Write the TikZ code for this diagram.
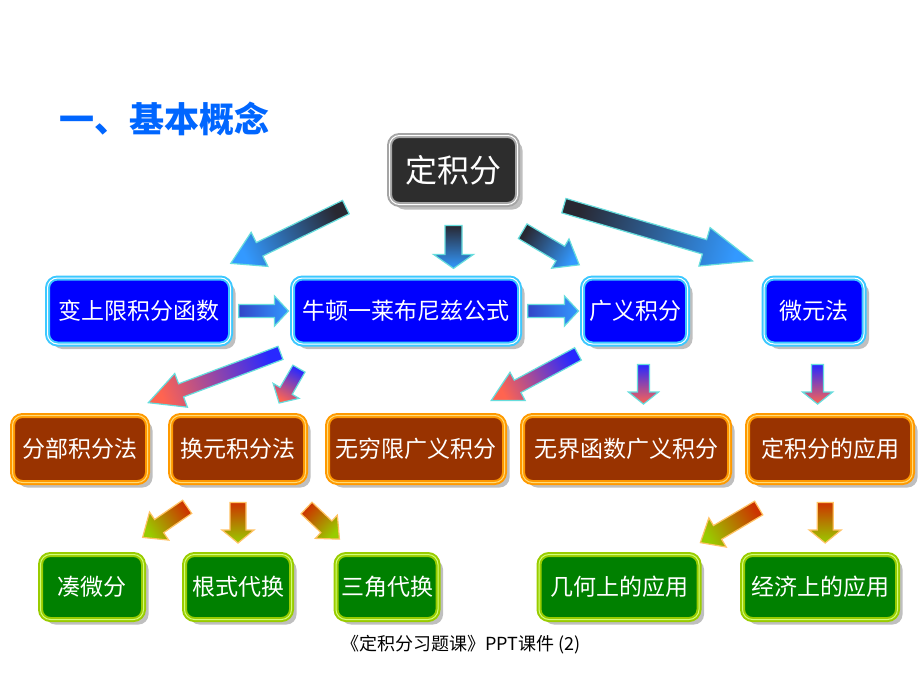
\documentclass[tikz,border=0pt]{standalone}
\usepackage{fontspec}
\newfontfamily\cjk{Noto Sans CJK SC}
\usetikzlibrary{calc}
\usetikzlibrary{shadows}

\definecolor{titleblue}{RGB}{0,102,255}
\definecolor{boxdark}{RGB}{45,45,45}
\definecolor{framegray}{RGB}{165,165,165}
\definecolor{boxblue}{RGB}{0,0,255}
\definecolor{frameblue}{RGB}{60,200,255}
\definecolor{boxbrown}{RGB}{153,51,0}
\definecolor{frameorange}{RGB}{255,153,0}
\definecolor{paleorange}{RGB}{255,220,120}
\definecolor{boxgreen}{RGB}{0,128,0}
\definecolor{framegreen}{RGB}{153,204,0}
\definecolor{palegreen}{RGB}{210,255,120}
\definecolor{arrowdark}{RGB}{40,40,50}
\definecolor{arrowsky}{RGB}{51,153,255}
\definecolor{arrowdeep}{RGB}{50,70,200}
\definecolor{arrowviolet}{RGB}{40,40,255}
\definecolor{arrowred}{RGB}{255,100,80}
\definecolor{arrowrim}{RGB}{102,221,221}
\definecolor{arrowrust}{RGB}{204,51,0}
\definecolor{arrowlime}{RGB}{153,204,0}
\definecolor{arrowglow}{RGB}{255,195,100}

\tikzset{
        box/.style={rounded corners=10pt, inner sep=0pt, text=white,
                font=\cjk\fontsize{23}{27}\selectfont,
                line width=2pt, double distance=1pt,
                drop shadow={shadow xshift=5pt, shadow yshift=-5pt, fill=gray!55, opacity=0.9}},
        darkbox/.style={box, fill=boxdark, draw=framegray, double=white},
        bluebox/.style={box, fill=boxblue, draw=frameblue, double=white, minimum height=66pt},
        brownbox/.style={box, fill=boxbrown, draw=frameorange, double=paleorange, minimum height=67pt},
        greenbox/.style={box, fill=boxgreen, draw=framegreen, double=palegreen, minimum height=65pt},
        darkarrow/.style={top color=arrowdark, bottom color=arrowsky, draw=arrowrim, line width=1.2pt},
        bluearrow/.style={top color=arrowdeep, bottom color=arrowsky, draw=arrowrim, line width=1.2pt},
        redarrow/.style={top color=arrowviolet, bottom color=arrowred, draw=arrowrim, line width=1.2pt},
        limearrow/.style={top color=arrowrust, bottom color=arrowlime, draw=arrowglow, line width=1.2pt}
}

% block arrow between two points taken on the line from #2 to #3
\newcommand{\fatarrow}[8]{%
        \path let \p1=($(#2)!#4!(#3)$), \p2=($(#2)!#5!(#3)$),
                \n1={atan2(\y2-\y1,\x2-\x1)}, \n2={veclen(\x2-\x1,\y2-\y1)} in
                \pgfextra{%
                        \pgfmathsetmacro\farx{\x1}\global\let\farx\farx
                        \pgfmathsetmacro\fary{\y1}\global\let\fary\fary
                        \pgfmathsetmacro\faang{\n1}\global\let\faang\faang
                        \pgfmathsetmacro\falen{\n2}\global\let\falen\falen
                };
        \pgfmathsetmacro\fashade{\faang+90}
        \path[#1, shading angle=\fashade, shift={(\farx,\fary)}, rotate=\faang]
                (0,#6/2) -- (\falen-#8,#6/2) -- (\falen-#8,#7/2) -- (\falen,0)
                -- (\falen-#8,-#7/2) -- (\falen-#8,-#6/2) -- (0,-#6/2) -- cycle;
}

\begin{document}
\begin{tikzpicture}[x=1pt, y=1pt]
        \fill[white] (0,-690) rectangle (920,0);
        \useasboundingbox (0,-690) rectangle (920,0);

        \node[font=\cjk\bfseries\fontsize{35}{40}\selectfont, text=titleblue] (title) at (164,-119) {一、基本概念};
        \node[darkbox, minimum width=128pt, minimum height=69pt, font=\cjk\fontsize{32}{36}\selectfont] (top) at (453.5,-170) {定积分};

        \foreach \name/\px/\w/\txt in {b1/139/183/变上限积分函数, b2/406/227/牛顿一莱布尼兹公式,
                        b3/635/105/广义积分, b4/814/100/微元法} {
                \node[bluebox, minimum width=\w pt] (\name) at (\px,-311) {\txt};
        }
        \foreach \name/\px/\w/\txt in {o1/80/135/分部积分法, o2/238/135/换元积分法, o3/416/177/无穷限广义积分,
                        o4/626/207/无界函数广义积分, o5/830/165/定积分的应用} {
                \node[brownbox, minimum width=\w pt] (\name) at (\px,-449) {\txt};
        }
        \foreach \name/\px/\w/\txt in {g1/92/103/凑微分, g2/238/107/根式代换, g3/387/102/三角代换,
                        g4/619/160/几何上的应用, g5/820/155/经济上的应用} {
                \node[greenbox, minimum width=\w pt] (\name) at (\px,-587) {\txt};
        }

        \node[font=\cjk\fontsize{18}{21}\selectfont] (footer) at (461,-645) {《定积分习题课》PPT课件 (2)};

        % arrows out of the top box
        \foreach \src/\dst/\fs/\fe/\bw/\hw/\hl in {top.194/b1.28/0.23/0.85/15/38/32,
                        top.south/top.south |- b2.north/0.28/0.88/17/40/14,
                        top.306/b3.136/0.36/0.83/17/34/22,
                        top.341/b4.101/0.157/0.81/15/40/50} {
                \fatarrow{darkarrow}{\src}{\dst}{\fs}{\fe}{\bw}{\hw}{\hl}
        }
        \foreach \src/\dst in {b1.east/b2.west, b2.east/b3.west} {
                \fatarrow{bluearrow}{\src}{\dst}{0.12}{0.95}{13}{30}{14}
        }
        \foreach \src/\dst/\fs/\fe/\bw/\hw/\hl in {b2.198/o1.43/0.113/0.83/14/36/35,
                        b2.200/o2.45/0.34/0.835/14/30/14,
                        b3.220/o3.35/0.128/0.80/14/32/30,
                        b3.284/b3.284 |- o4.north/0.28/0.85/12/30/12,
                        b4.276/b4.276 |- o5.north/0.28/0.85/12/30/12} {
                \fatarrow{redarrow}{\src}{\dst}{\fs}{\fe}{\bw}{\hw}{\hl}
        }
        \foreach \src/\dst/\fs/\fe/\bw/\hw/\hl in {o2.244/g1.51/0.333/0.77/16/34/20,
                        o2.south/o2.south |- g2.north/0.27/0.85/16/32/13,
                        o2.321/g3.134/0.35/0.795/16/32/18,
                        o5.229/g4.28/0.35/0.845/16/34/20,
                        o5.262/o5.262 |- g5.north/0.27/0.85/16/32/13} {
                \fatarrow{limearrow}{\src}{\dst}{\fs}{\fe}{\bw}{\hw}{\hl}
        }
\end{tikzpicture}
\end{document}
